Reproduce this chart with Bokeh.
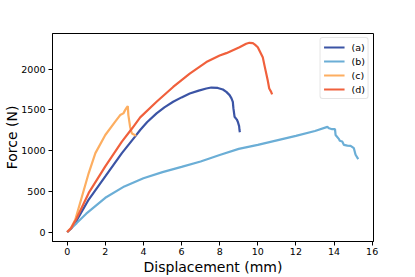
from bokeh.plotting import figure
from bokeh.models import FixedTicker, Range1d
from bokeh.embed import file_html
from bokeh.resources import INLINE

# ---- data ----
a_x = [0, 0.2, 0.43, 1.13, 2.0, 2.87, 3.56, 3.83, 4.2, 4.69, 5.1, 5.56, 6.0, 6.43, 6.9, 7.30, 7.56, 7.9, 8.17, 8.35, 8.52, 8.62, 8.69, 8.72, 8.78, 8.9, 8.95, 9.02, 9.04, 9.06]
a_y = [0, 40, 115, 399, 683, 968, 1171, 1252, 1350, 1456, 1530, 1598, 1652, 1700, 1735, 1761, 1773, 1768, 1749, 1720, 1680, 1640, 1598, 1520, 1415, 1380, 1354, 1300, 1252, 1225]

b_x = [0, 0.5, 1.0, 2.0, 3.0, 4.0, 5.0, 6.0, 7.0, 8.0, 9.0, 10.0, 11.0, 12.0, 13.0, 13.65, 13.74, 13.9, 14.05, 14.08, 14.26, 14.3, 14.43, 14.52, 14.7, 14.87, 15.04, 15.13, 15.27]
b_y = [0, 110, 225, 420, 560, 660, 735, 800, 866, 945, 1020, 1070, 1125, 1180, 1240, 1290, 1273, 1262, 1262, 1191, 1140, 1120, 1110, 1069, 1060, 1057, 1029, 948, 895]

c_x = [0, 0.2, 0.43, 0.78, 1.13, 1.48, 2.0, 2.52, 2.78, 2.95, 3.04, 3.13, 3.18, 3.21, 3.30, 3.39, 3.47, 3.56, 3.6]
c_y = [0, 50, 155, 439, 724, 968, 1191, 1354, 1435, 1456, 1496, 1530, 1545, 1435, 1293, 1212, 1200, 1191, 1175]

d_x = [0, 0.2, 0.5, 1.13, 2.0, 2.87, 3.4, 3.83, 4.69, 5.56, 6.43, 7.30, 8.0, 8.35, 9.04, 9.39, 9.56, 9.74, 9.85, 10.0, 10.26, 10.35, 10.52, 10.6, 10.7, 10.75]
d_y = [0, 45, 170, 480, 805, 1110, 1270, 1407, 1598, 1780, 1944, 2085, 2167, 2195, 2268, 2310, 2322, 2317, 2300, 2268, 2146, 2045, 1862, 1761, 1720, 1690]

series = [("(a)", a_x, a_y, "#3b54a5"),
          ("(b)", b_x, b_y, "#6baed6"),
          ("(c)", c_x, c_y, "#fdae61"),
          ("(d)", d_x, d_y, "#f0603c")]

x_ticks = [0, 2, 4, 6, 8, 10, 12, 14, 16]
y_ticks = [0, 500, 1000, 1500, 2000]

FONT = "DejaVu Sans"

p = figure(width=415, height=277, output_backend="svg", toolbar_location=None,
           x_range=Range1d(-0.77, 16.07), y_range=Range1d(-116, 2436),
           min_border_left=52, min_border_right=42, min_border_top=33, min_border_bottom=35)

for name, xs, ys, col in series:
    p.line(xs, ys, line_color=col, line_width=2.2, legend_label=name)

p.grid.visible = False
p.outline_line_color = "black"
p.outline_line_width = 1
p.background_fill_color = "white"
p.border_fill_color = "white"

p.xaxis.ticker = FixedTicker(ticks=x_ticks)
p.yaxis.ticker = FixedTicker(ticks=y_ticks)

for ax in (p.xaxis[0], p.yaxis[0]):
    ax.axis_line_color = "black"
    ax.major_tick_in = 0
    ax.major_tick_out = 4
    ax.major_tick_line_color = "black"
    ax.minor_tick_line_color = None
    ax.major_label_text_font = FONT
    ax.major_label_text_font_size = "9.5px"
    ax.major_label_text_color = "black"
    ax.axis_label_text_font = FONT
    ax.axis_label_text_font_size = "14px"
    ax.axis_label_text_font_style = "normal"
    ax.axis_label_text_color = "black"

p.xaxis.axis_label = "Displacement (mm)"
p.yaxis.axis_label = "Force (N)"
p.xaxis.major_label_standoff = 2
p.xaxis.axis_label_standoff = 1
p.yaxis.major_label_standoff = 3
p.yaxis.axis_label_standoff = -2

lg = p.legend[0]
lg.location = "top_right"
lg.margin = 4
lg.padding = 3
lg.spacing = 2
lg.glyph_width = 21
lg.glyph_height = 12
lg.label_height = 12
lg.label_width = 13
lg.label_standoff = 7
lg.label_text_font = FONT
lg.label_text_font_size = "9.5px"
lg.label_text_color = "black"
lg.border_line_color = "#cccccc"
lg.border_line_width = 1
lg.background_fill_alpha = 0.8
lg.border_radius = 3

open("out.html", "w").write(file_html(p, INLINE))
